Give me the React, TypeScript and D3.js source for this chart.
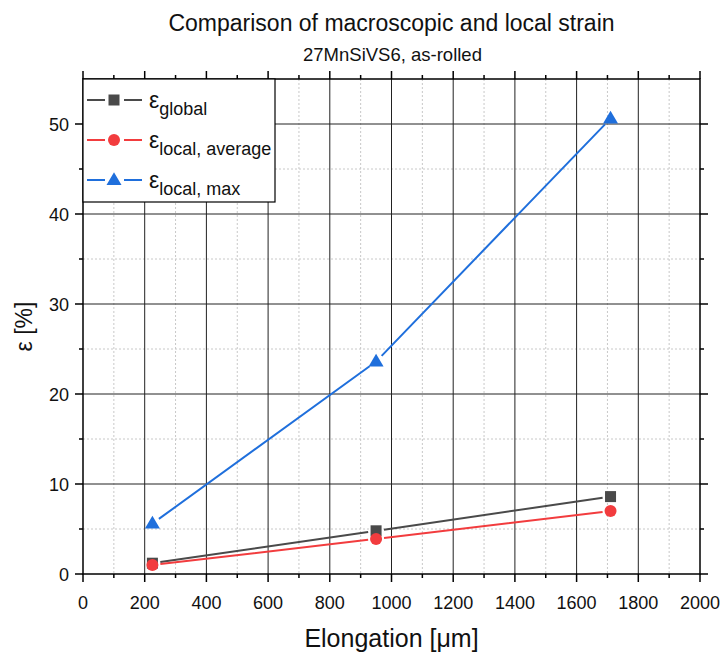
import React from "react";
import * as d3 from "d3";

const elongation = [225, 950, 1710];
const epsGlobal = [1.2, 4.8, 8.6];
const epsLocalAvg = [1.0, 3.9, 7.0];
const epsLocalMax = [5.6, 23.6, 50.6];
const xTicks = [0, 200, 400, 600, 800, 1000, 1200, 1400, 1600, 1800, 2000];
const yTicks = [0, 10, 20, 30, 40, 50];
const xMinor = d3.range(100, 2000, 200);
const yMinor = [5, 15, 25, 35, 45];

const seriesNames = ["global", "local, average", "local, max"];
const seriesColors = ["#4a4a4a", "#f23c3e", "#1f6fdc"];
const seriesShapes = ["square", "circle", "triangle"];

const W = 725, H = 657;
const L = 83, R = 700, T = 79, B = 574;
const FONT = "'Liberation Sans', Arial, sans-serif";

function Marker({ shape, x, y, color }: { shape: string; x: number; y: number; color: string }) {
  if (shape === "square") return <rect x={x - 5.5} y={y - 5.5} width={11} height={11} fill={color} />;
  if (shape === "circle") return <circle cx={x} cy={y} r={6} fill={color} />;
  const s = 7.5;
  return <path d={`M${x},${y - s * 1.05}L${x + s},${y + s * 0.65}L${x - s},${y + s * 0.65}Z`} fill={color} />;
}

export default function App() {
  const x = d3.scaleLinear().domain([0, 2000]).range([L, R]);
  const y = d3.scaleLinear().domain([0, 55]).range([B, T]);
  const data = [epsGlobal, epsLocalAvg, epsLocalMax];
  const gap = 8;

  const segs = (vals: number[]) => {
    const out: string[] = [];
    for (let i = 0; i < vals.length - 1; i++) {
      const x1 = x(elongation[i]), y1 = y(vals[i]);
      const x2 = x(elongation[i + 1]), y2 = y(vals[i + 1]);
      const len = Math.hypot(x2 - x1, y2 - y1);
      const ux = (x2 - x1) / len, uy = (y2 - y1) / len;
      out.push(`M${x1 + ux * gap},${y1 + uy * gap}L${x2 - ux * gap},${y2 - uy * gap}`);
    }
    return out.join("");
  };

  return (
    <svg width={W} height={H} style={{ position: "absolute", left: 0, top: 0, background: "#fff" }} fontFamily={FONT}>
      {/* minor grid */}
      {xMinor.map((v) => (
        <line key={"xm" + v} x1={x(v)} x2={x(v)} y1={T} y2={B} stroke="#c8c8c8" strokeWidth={1} strokeDasharray="2,2" />
      ))}
      {yMinor.map((v) => (
        <line key={"ym" + v} x1={L} x2={R} y1={y(v)} y2={y(v)} stroke="#c8c8c8" strokeWidth={1} strokeDasharray="2,2" />
      ))}
      {/* major grid */}
      {xTicks.slice(1, -1).map((v) => (
        <line key={"xg" + v} x1={x(v)} x2={x(v)} y1={T} y2={B} stroke="#222" strokeWidth={1} />
      ))}
      {yTicks.slice(1).map((v) => (
        <line key={"yg" + v} x1={L} x2={R} y1={y(v)} y2={y(v)} stroke="#222" strokeWidth={1} />
      ))}
      {/* ticks */}
      {xTicks.map((v) => (
        <g key={"xt" + v}>
          <line x1={x(v)} x2={x(v)} y1={B} y2={B + 8} stroke="#000" strokeWidth={1.5} />
          <line x1={x(v)} x2={x(v)} y1={T} y2={T - 8} stroke="#000" strokeWidth={1.5} />
          <text x={x(v)} y={B + 35} textAnchor="middle" fontSize={18} fill="#111">{v}</text>
        </g>
      ))}
      {xMinor.map((v) => (
        <g key={"xmt" + v}>
          <line x1={x(v)} x2={x(v)} y1={B} y2={B + 4} stroke="#000" strokeWidth={1.5} />
          <line x1={x(v)} x2={x(v)} y1={T} y2={T - 4} stroke="#000" strokeWidth={1.5} />
        </g>
      ))}
      {yTicks.map((v) => (
        <g key={"yt" + v}>
          <line x1={L} x2={L - 8} y1={y(v)} y2={y(v)} stroke="#000" strokeWidth={1.5} />
          <line x1={R} x2={R + 8} y1={y(v)} y2={y(v)} stroke="#000" strokeWidth={1.5} />
          <text x={L - 14} y={y(v) + 6.5} textAnchor="end" fontSize={18} fill="#111">{v}</text>
        </g>
      ))}
      {yMinor.map((v) => (
        <g key={"ymt" + v}>
          <line x1={L} x2={L - 4} y1={y(v)} y2={y(v)} stroke="#000" strokeWidth={1.5} />
          <line x1={R} x2={R + 4} y1={y(v)} y2={y(v)} stroke="#000" strokeWidth={1.5} />
        </g>
      ))}
      {/* frame */}
      <rect x={L} y={T} width={R - L} height={B - T} fill="none" stroke="#000" strokeWidth={1.5} />
      {/* series */}
      {data.map((vals, si) => (
        <g key={"s" + si}>
          <path d={segs(vals)} stroke={seriesColors[si]} strokeWidth={2} fill="none" />
          {vals.map((v, i) => (
            <Marker key={i} shape={seriesShapes[si]} x={x(elongation[i])} y={y(v)} color={seriesColors[si]} />
          ))}
        </g>
      ))}
      {/* legend */}
      <rect x={L} y={T} width={192} height={123} fill="#fff" stroke="#000" strokeWidth={1.2} />
      {seriesNames.map((n, i) => {
        const cy = 100 + i * 40;
        return (
          <g key={"lg" + i}>
            <line x1={87} x2={105} y1={cy} y2={cy} stroke={seriesColors[i]} strokeWidth={2} />
            <line x1={124} x2={142} y1={cy} y2={cy} stroke={seriesColors[i]} strokeWidth={2} />
            <Marker shape={seriesShapes[i]} x={114} y={cy} color={seriesColors[i]} />
            <text x={149} y={cy + 8} fontSize={23} fill="#111">
              ε<tspan fontSize={18} dy={7}>{n}</tspan>
            </text>
          </g>
        );
      })}
      {/* titles */}
      <text x={(L + R) / 2} y={31} textAnchor="middle" fontSize={23} fill="#111">Comparison of macroscopic and local strain</text>
      <text x={(L + R) / 2 + 1} y={61} textAnchor="middle" fontSize={18.5} fill="#111">27MnSiVS6, as-rolled</text>
      <text x={(L + R) / 2} y={647} textAnchor="middle" fontSize={25} fill="#111">Elongation [μm]</text>
      <text transform={`translate(32,${(T + B) / 2}) rotate(-90)`} textAnchor="middle" fontSize={23} fill="#111">ε [%]</text>
    </svg>
  );
}
